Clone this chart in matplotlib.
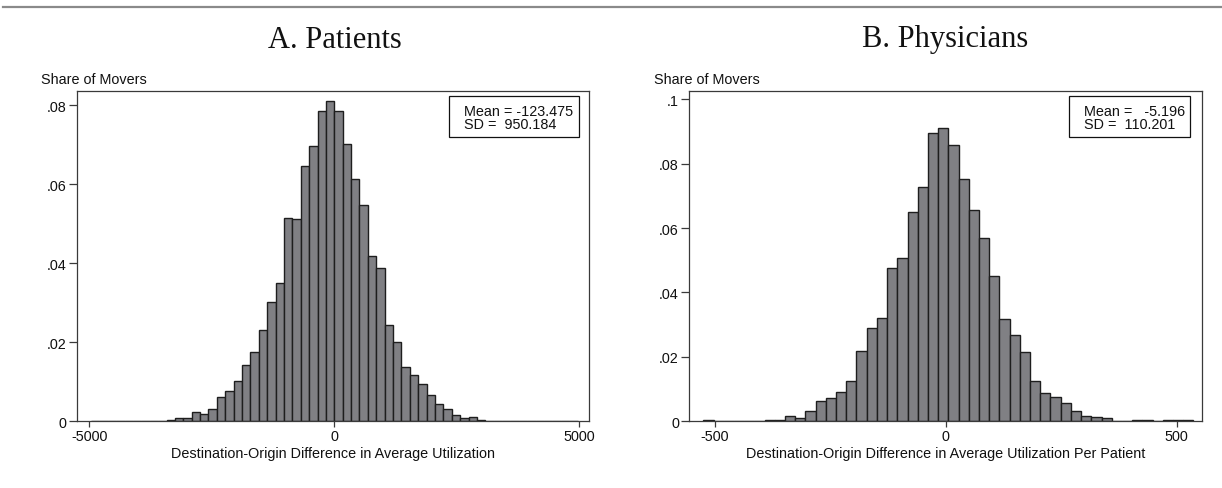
import numpy as np
import matplotlib
matplotlib.use("Agg")
import matplotlib.pyplot as plt
from matplotlib.patches import Rectangle
from matplotlib.lines import Line2D

# ---------------- data ----------------
# Panel A: patients (histogram, 58 bins)
pat_bin_start = -4965.0
pat_bin_width = 171.2
pat_share = [
    0.0001, 0.0001, 0.0001, 0.0001, 0.0001, 0.0001, 0.0, 0.0001, 0.0001, 0.0003,
    0.0008, 0.0007, 0.0023, 0.0019, 0.0030, 0.0061, 0.0077, 0.0101, 0.0143, 0.0174,
    0.0230, 0.0301, 0.0349, 0.0514, 0.0512, 0.0646, 0.0697, 0.0786, 0.0811, 0.0786,
    0.0703, 0.0614, 0.0548, 0.0418, 0.0388, 0.0244, 0.0199, 0.0138, 0.0116, 0.0095,
    0.0065, 0.0042, 0.0030, 0.0016, 0.0008, 0.0011, 0.0003, 0.0001, 0.0001, 0.0001,
    0.0001, 0.0, 0.0001, 0.0001, 0.0001, 0.0001, 0.0, 0.0001,
]
pat_xticks = [-5000, 0, 5000]
pat_xticklabels = ["-5000", "0", "5000"]
pat_yticks = [0, 0.02, 0.04, 0.06, 0.08]
pat_yticklabels = ["0", ".02", ".04", ".06", ".08"]
pat_mean_txt = "Mean = -123.475"
pat_sd_txt = "SD =  950.184"

# Panel B: physicians (histogram, 48 bins)
phy_bin_start = -524.7
phy_bin_width = 22.1
phy_share = [
    0.0002, 0.0, 0.0, 0.0001, 0.0001, 0.0001, 0.0002, 0.0004, 0.0016, 0.0010,
    0.0031, 0.0063, 0.0071, 0.0090, 0.0125, 0.0218, 0.0288, 0.0320, 0.0475, 0.0506,
    0.0649, 0.0727, 0.0894, 0.0911, 0.0859, 0.0751, 0.0655, 0.0568, 0.0450, 0.0317,
    0.0267, 0.0213, 0.0123, 0.0088, 0.0076, 0.0055, 0.0032, 0.0014, 0.0012, 0.0009,
    0.0001, 0.0001, 0.0002, 0.0002, 0.0, 0.0002, 0.0002, 0.0002,
]
phy_xticks = [-500, 0, 500]
phy_xticklabels = ["-500", "0", "500"]
phy_yticks = [0, 0.02, 0.04, 0.06, 0.08, 0.1]
phy_yticklabels = ["0", ".02", ".04", ".06", ".08", ".1"]
phy_mean_txt = "Mean =   -5.196"
phy_sd_txt = "SD =  110.201"

titles = ["A. Patients", "B. Physicians"]
ylabel = "Share of Movers"
xlabels = ["Destination-Origin Difference in Average Utilization",
           "Destination-Origin Difference in Average Utilization Per Patient"]

# ---------------- figure ----------------
W, H = 1222, 489
fig = plt.figure(figsize=(W / 100, H / 100), dpi=100)
fig.patch.set_facecolor("white")

sans = ["Liberation Sans", "DejaVu Sans"]
serif = ["Liberation Serif", "DejaVu Serif"]
fs = 10.4
bar_face = "#808084"
bar_edge = "#1e1e1e"
spine_col = "#3a3a3a"

def px_ax(x0, x1, y0, y1):
    return fig.add_axes([x0 / W, 1 - y1 / H, (x1 - x0) / W, (y1 - y0) / H])

panels = [
    dict(ax=px_ax(76.7, 589.3, 92, 422), start=pat_bin_start, width=pat_bin_width,
         share=pat_share, xlim=(-5257, 5204), ylim=(0, 0.0836),
         xt=pat_xticks, xtl=pat_xticklabels, yt=pat_yticks, ytl=pat_yticklabels,
         mean=pat_mean_txt, sd=pat_sd_txt, box=(0.7263, 0.9805), tx=0.756,
         title_x=335, ylab_x=40.7, xlabel=xlabels[0], title=titles[0]),
    dict(ax=px_ax(689.3, 1201.7, 92, 422), start=phy_bin_start, width=phy_bin_width,
         share=phy_share, xlim=(-555, 554), ylim=(0, 0.1026),
         xt=phy_xticks, xtl=phy_xticklabels, yt=phy_yticks, ytl=phy_yticklabels,
         mean=phy_mean_txt, sd=phy_sd_txt, box=(0.7416, 0.977), tx=0.7709,
         title_x=945, ylab_x=654, xlabel=xlabels[1], title=titles[1]),
]

for p in panels:
    ax = p["ax"]
    share = np.asarray(p["share"])
    lefts = p["start"] + p["width"] * np.arange(len(share))
    ax.bar(lefts, share, width=p["width"], align="edge", color=bar_face,
           edgecolor=bar_edge, linewidth=1.0, zorder=2)
    ax.set_xlim(*p["xlim"])
    ax.set_ylim(*p["ylim"])
    ax.set_xticks(p["xt"])
    ax.set_xticklabels(p["xtl"], fontfamily=sans, fontsize=fs, color="#111111")
    ax.set_yticks(p["yt"])
    ax.set_yticklabels(p["ytl"], fontfamily=sans, fontsize=fs, color="#111111")
    ax.tick_params(axis="x", length=4, width=0.9, pad=2, color=spine_col)
    ax.tick_params(axis="y", length=6, width=0.9, pad=1.5, color=spine_col)
    for s in ax.spines.values():
        s.set_color(spine_col)
        s.set_linewidth(0.9)
    ax.set_xlabel(p["xlabel"], fontfamily=sans, fontsize=fs, color="#111111", labelpad=2)

    # stats box
    b0, b1 = p["box"]
    ax.add_patch(Rectangle((b0, 0.8597), b1 - b0, 0.984 - 0.8597, transform=ax.transAxes,
                           facecolor="white", edgecolor="#111111", linewidth=0.9, zorder=5))
    ax.text(p["tx"], 0.940, p["mean"], transform=ax.transAxes, fontfamily=sans,
            fontsize=fs, va="center", ha="left", zorder=6, color="#111111")
    ax.text(p["tx"], 0.900, p["sd"], transform=ax.transAxes, fontfamily=sans,
            fontsize=fs, va="center", ha="left", zorder=6, color="#111111")

    fig.text(p["ylab_x"] / W, 1 - 80 / H, ylabel, fontfamily=sans, fontsize=fs,
             ha="left", va="center", color="#111111")
    fig.text(p["title_x"] / W, 1 - 40 / H, p["title"], fontfamily=serif, fontsize=22,
             ha="center", va="center", color="#111111")

fig.add_artist(Line2D([3 / W, 1], [1 - 8 / H, 1 - 8 / H], transform=fig.transFigure,
                      color="#8a8a8a", linewidth=1.6))

fig.savefig("out.png", dpi=100, facecolor="white")
